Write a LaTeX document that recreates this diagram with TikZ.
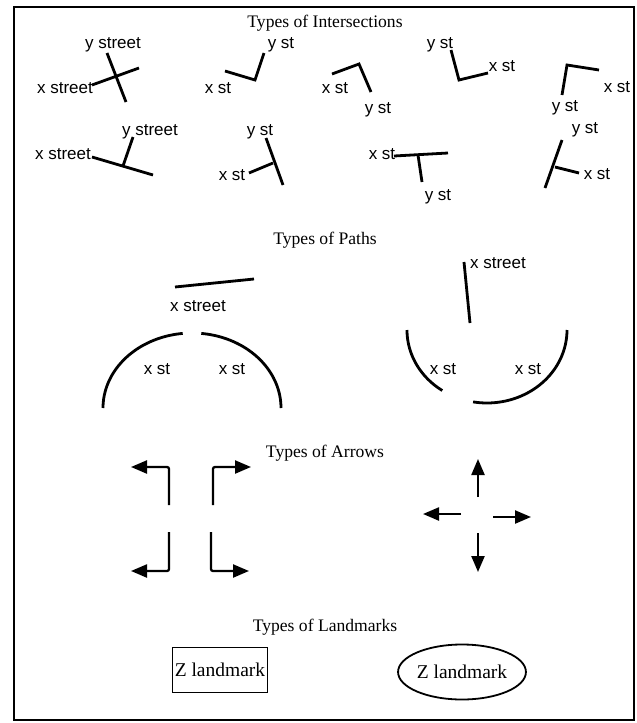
\documentclass[tikz,border=0pt]{standalone}
\usepackage{fontspec}
\setmainfont{Liberation Serif}
\newfontfamily\labfont{Liberation Sans}
\usetikzlibrary{arrows.meta,shapes.geometric}
\begin{document}
\begin{tikzpicture}[x=1pt,y=-1pt,
  street/.style={line width=2.8pt},
  lab/.style={font=\labfont\fontsize{17}{19}\selectfont, inner sep=0pt},
  ttl/.style={font=\fontsize{17.6}{20}\selectfont, inner sep=0pt},
  arr/.style={line width=2.3pt, -{Triangle[length=16pt,width=13pt]}, rounded corners=2pt},
  lm/.style={font=\fontsize{19.5}{21}\selectfont, draw, line width=1.8pt},
]
\useasboundingbox (0,0) rectangle (637,723);
\draw[line width=1.8pt] (14,7) rectangle (634,720);

% ---------------- Intersections ----------------
\node[ttl] (t1) at (325,23) {Types of Intersections};

% 1
\node[lab] (l1y) at (113,45) {y street};
\node[lab] (l1x) at (65,88) {x street};
\draw[street] (107,53) -- (126,102);
\draw[street] (92,85) -- (139,68);
% 2
\node[lab] (l2y) at (281,45) {y st};
\node[lab] (l2x) at (218,88) {x st};
\draw[street] (225,71) -- (255,80) -- (264,53);
% 3
\node[lab] (l3x) at (335,88) {x st};
\node[lab] (l3y) at (378,110) {y st};
\draw[street] (332,74) -- (359,64) -- (371,92);
% 4
\node[lab] (l4y) at (440,45) {y st};
\node[lab] (l4x) at (502,66) {x st};
\draw[street] (451,50) -- (459,80) -- (488,73);
% 5
\node[lab] (l5y) at (565,108) {y st};
\node[lab] (l5x) at (617,87) {x st};
\draw[street] (562,95) -- (567,65) -- (599,70);
% 6
\node[lab] (l6y) at (150,132) {y street};
\node[lab] (l6x) at (63,154) {x street};
\draw[street] (92,157) -- (153,175);
\draw[street] (123,166) -- (133,137);
% 7
\node[lab] (l7y) at (260,132) {y st};
\node[lab] (l7x) at (232,175) {x st};
\draw[street] (266,138) -- (283,185);
\draw[street] (249,173) -- (273,163);
% 8
\node[lab] (l8x) at (382,154) {x st};
\node[lab] (l8y) at (438,197) {y st};
\draw[street] (394,156) -- (448,153);
\draw[street] (418,155) -- (422,182);
% 9
\node[lab] (l9y) at (585,130) {y st};
\node[lab] (l9x) at (597,174) {x st};
\draw[street] (562,140) -- (545,188);
\draw[street] (555,167) -- (579,173);

% ---------------- Paths ----------------
\node[ttl] (t2) at (325,240) {Types of Paths};

\draw[street] (175,287) -- (254,279);
\node[lab] (p1) at (198,306) {x street};
\draw[street] plot[domain=180:96, samples=40] ({192+89*cos(\x)}, {408-75*sin(\x)});
\draw[street] plot[domain=84:0, samples=40] ({192+89*cos(\x)}, {408-75*sin(\x)});
\node[lab] (p2) at (157,369) {x st};
\node[lab] (p3) at (232,369) {x st};

\node[lab] (p4) at (498,263) {x street};
\draw[street] (464,262) -- (470,323);
\draw[street] plot[domain=180:236, samples=40] ({487+80*cos(\x)}, {330-73*sin(\x)});
\draw[street] plot[domain=260:360, samples=40] ({487+80*cos(\x)}, {330-73*sin(\x)});
\node[lab] (p5) at (443,369) {x st};
\node[lab] (p6) at (528,369) {x st};

% ---------------- Arrows ----------------
\node[ttl] (t3) at (325,453) {Types of Arrows};

\draw[arr] (169,505) -- (169,467) -- (131,467);
\draw[arr] (213,505) -- (213,467) -- (251,467);
\draw[arr] (169,532) -- (169,571) -- (131,571);
\draw[arr] (211,532) -- (211,571) -- (249,571);

\draw[arr] (478,497) -- (478,459);
\draw[arr] (461,514) -- (423,514);
\draw[arr] (493,517) -- (531,517);
\draw[arr] (478,533) -- (478,572);

% ---------------- Landmarks ----------------
\node[ttl] (t4) at (325,627) {Types of Landmarks};
\node[lm, rectangle, minimum width=95pt, minimum height=45pt, inner sep=1pt] (r1) at (220,670) {Z landmark};
\node[lm, ellipse, minimum width=110pt, minimum height=55pt, inner sep=0pt] (e1) at (462,672) {Z landmark};
\end{tikzpicture}
\end{document}
